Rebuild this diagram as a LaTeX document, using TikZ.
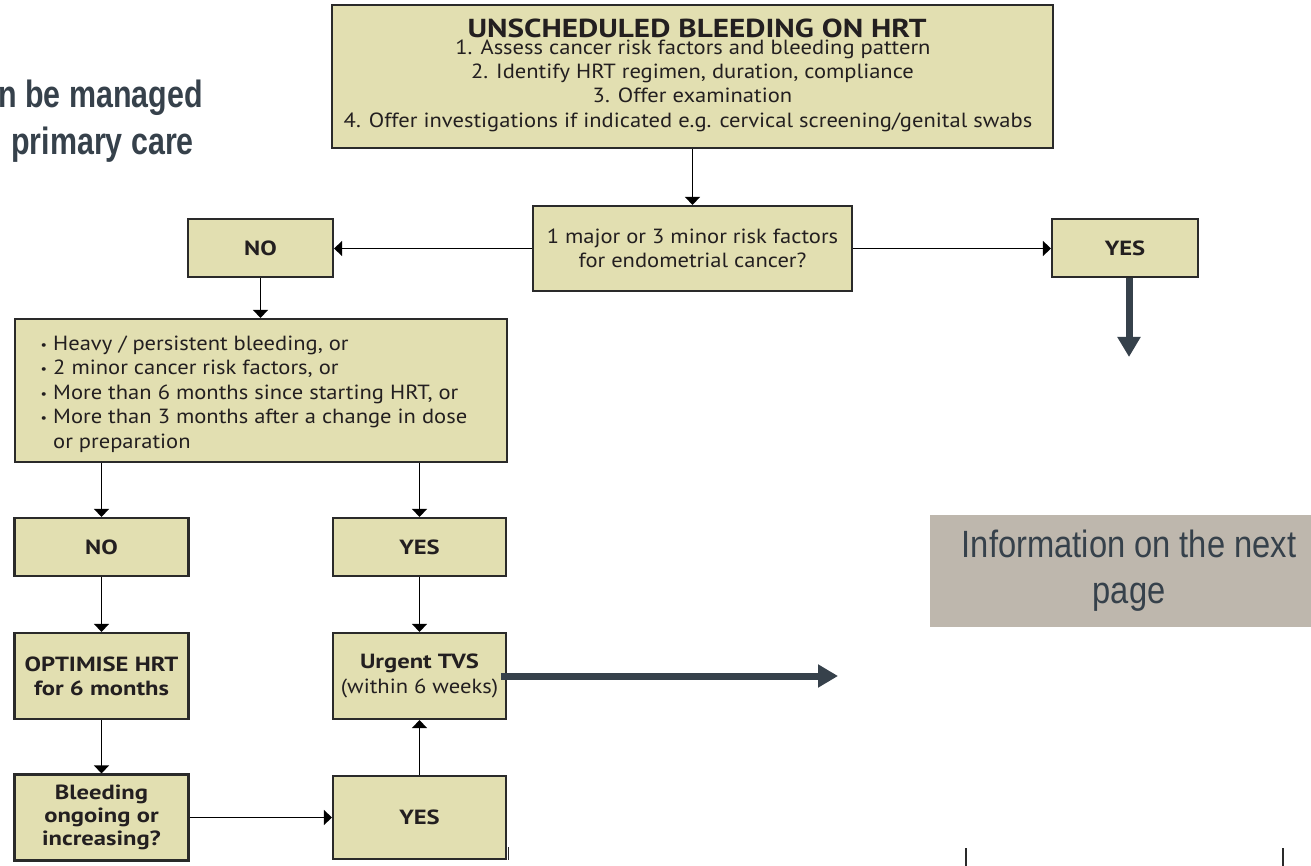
\documentclass[tikz,border=0pt]{standalone}
\usepackage{fontspec}
\setmainfont{PT Sans}[FakeStretch=1.10]
\newfontfamily\boldface{PT Sans}[FakeStretch=1.20]
\newfontfamily\narrowfont[FakeStretch=0.80]{Liberation Sans}
\newfontfamily\infofont[FakeStretch=0.86]{Liberation Sans}
\usetikzlibrary{arrows.meta,calc}
\definecolor{boxfill}{HTML}{E2DFB1}
\definecolor{boxline}{HTML}{2A2A2A}
\definecolor{slate}{HTML}{36414B}
\definecolor{graybox}{HTML}{BEB7AD}
\definecolor{ink}{HTML}{231F20}
\newcommand{\bx}{\boldface\bfseries}
\newcommand{\bul}{\llap{{\fontsize{13}{13}\selectfont\raisebox{1pt}{•}}\hspace{6pt}}}
\begin{document}
\begin{tikzpicture}[x=1pt,y=-1pt,
  box/.style={draw=boxline, fill=boxfill, line width=2.2pt, inner sep=0pt, text=ink, align=center, font=\fontsize{20.5}{24.5}\selectfont},
  boldbox/.style={box, font=\fontsize{20.5}{24}\selectfont\bx},
  line/.style={text=ink, inner sep=0pt, font=\fontsize{20.5}{24}\selectfont},
  flow/.style={draw=black, line width=1.8pt, -{Triangle[width=15pt,length=8pt]}},
  bigarrow/.style={draw=slate, line width=7pt, -{Triangle[width=22pt,length=20pt]}},
  lefttext/.style={text=slate, inner sep=0pt, font=\narrowfont\bfseries\fontsize{38}{38}\selectfont}
]
\fill[white] (0,0) rectangle (1311,866);
\useasboundingbox (0,0) rectangle (1311,866);

% left heading (clipped in the reference)
\node[lefttext, anchor=base east] (lt1) at (203,108) {n be managed};
\node[lefttext, anchor=base east] (lt2) at (194,155) {primary care};

% top box
\node[box, minimum width=721pt, minimum height=143pt] (top) at (692.5,76.5) {};
\node[line, anchor=base, font=\fontsize{26}{26}\selectfont\bx] (t0) at (697,37.5) {UNSCHEDULED BLEEDING ON HRT};
\node[line, anchor=base] (t1) at (693,54.5) {1. Assess cancer risk factors and bleeding pattern};
\node[line, anchor=base] (t2) at (692.5,78.5) {2. Identify HRT regimen, duration, compliance};
\node[line, anchor=base] (t3) at (692.5,103) {3. Offer examination};
\node[line, anchor=base] (t4) at (688,127.5) {4. Offer investigations if indicated e.g. cervical screening/genital swabs};

% decision
\node[box, minimum width=319pt, minimum height=85pt] (dec) at (692.5,248.5) {1 major or 3 minor risk factors\\for endometrial cancer?};
\node[boldbox, minimum width=145pt, minimum height=58pt] (no1) at (260.5,248) {NO};
\node[boldbox, minimum width=146pt, minimum height=58pt] (yes1) at (1125,248) {YES};
\coordinate (yesend) at (1129,357);

% bullet box
\node[box, minimum width=492pt, minimum height=143pt] (bul) at (261,390.5) {};
\node[line, anchor=base west] (b1) at (53,350) {\bul Heavy / persistent bleeding, or};
\node[line, anchor=base west] (b2) at (53,374.5) {\bul 2 minor cancer risk factors, or};
\node[line, anchor=base west] (b3) at (53,399) {\bul More than 6 months since starting HRT, or};
\node[line, anchor=base west] (b4) at (53,423.5) {\bul More than 3 months after a change in dose};
\node[line, anchor=base west] (b5) at (53,448) {or preparation};

% lower boxes
\node[boldbox, minimum width=174pt, minimum height=58pt] (no2) at (101.5,547) {NO};
\node[boldbox, minimum width=173pt, minimum height=58pt] (yes2) at (419.5,547) {YES};
\node[boldbox, minimum width=174pt, minimum height=86pt] (opt) at (101.5,676) {OPTIMISE HRT\\for 6 months};
\node[box, minimum width=173pt, minimum height=86pt] (urg) at (419.5,676) {{\bx Urgent TVS}\\(within 6 weeks)};
\node[boldbox, minimum width=174pt, minimum height=86pt, font=\fontsize{20.5}{23}\selectfont\bx] (bld) at (101.5,817.5) {Bleeding\\ongoing or\\increasing?};
\node[boldbox, minimum width=173pt, minimum height=83pt] (yes3) at (419.5,817.5) {YES};
\coordinate (tvsend) at (838,676);

% info box
\node[fill=graybox, minimum width=398pt, minimum height=112pt, inner sep=0pt, text=slate, align=center,
      font=\infofont\fontsize{38}{46}\selectfont] (info) at (1129,571) {\raisebox{-4pt}{Information on the next}\\\raisebox{-4pt}{page}};

% connectors
\draw[flow] (top.south) -- (dec.north);
\draw[flow] (dec.west) -- (dec.west -| no1.east);
\draw[flow] (dec.east) -- (dec.east -| yes1.west);
\draw[bigarrow] (yesend |- yes1.south) -- (yesend);
\draw[flow] (no1.south) -- (no1.south |- bul.north);
\draw[flow] (bul.south -| no2.north) -- (no2.north);
\draw[flow] (bul.south -| yes2.north) -- (yes2.north);
\draw[flow] (no2.south) -- (opt.north);
\draw[flow] (yes2.south) -- (urg.north);
\draw[flow] (opt.south) -- (bld.north);
\draw[flow] (bld.east) -- (bld.east -| yes3.west);
\draw[flow] (yes3.north) -- (urg.south);
\draw[bigarrow] ($(urg.east)+(-6,0)$) -- (tvsend);

% small marks
\draw[line width=1.5pt, boxline] (508.5,847) -- (508.5,860);
\draw[line width=2pt, boxline] (966,848) -- (966,866);
\draw[line width=2pt, boxline] (1283,848) -- (1283,866);
\end{tikzpicture}
\end{document}
